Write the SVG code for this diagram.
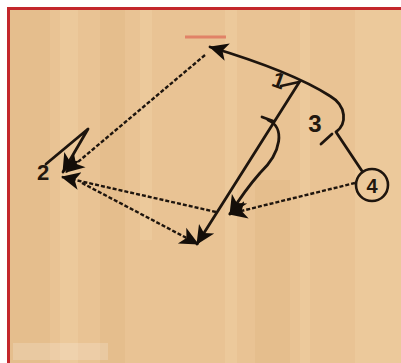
<svg xmlns="http://www.w3.org/2000/svg" width="401" height="363" viewBox="0 0 401 363">
<defs>
<marker id="ah" markerUnits="userSpaceOnUse" markerWidth="22" markerHeight="20" refX="18" refY="10" orient="auto">
<path d="M0,1 L19,10 L0,19 L5,10 z" fill="#140e09"/>
</marker>
</defs>
<style>
.solid{fill:none;stroke:#1e150e;stroke-width:2.8;stroke-linecap:round;stroke-linejoin:round}
.dash{fill:none;stroke:#1e150e;stroke-width:2.4;stroke-dasharray:4 2}
.lbl{font-family:"Liberation Sans",Arial,sans-serif;font-weight:bold;fill:#22170e;text-anchor:middle}
.st{fill:#f3d5a8;opacity:0.35}
.sd{fill:#dcae78;opacity:0.25}
</style>
<rect width="401" height="363" fill="#ffffff"/>
<g id="floor">
<rect x="8" y="8" width="393" height="355" fill="#e9c394"/>
<rect class="sd" x="10" y="10" width="40" height="353"/>
<rect class="st" x="60" y="10" width="18" height="353"/>
<rect class="st" x="140" y="10" width="12" height="230"/>
<rect class="sd" x="100" y="10" width="25" height="353"/>
<rect class="st" x="225" y="10" width="12" height="353"/>
<rect class="sd" x="255" y="180" width="35" height="183"/>
<rect class="st" x="300" y="10" width="10" height="353"/>
<rect class="st" x="355" y="10" width="46" height="353"/>
<rect x="13" y="343" width="95" height="17" fill="#ffffff" opacity="0.18"/>
</g>
<g id="border" fill="none" stroke="#c3282c" stroke-width="3">
<path d="M401,8.5 H8.5 V363"/>
</g>
<line x1="185" y1="37" x2="226" y2="37" stroke="#e0735c" stroke-width="3" opacity="0.8"/>
<g id="connectors">
<path id="c-4-top" class="solid" d="M362,171 L336,132 C347,124 347,106 330,96 C305,80 260,62 210,47" marker-end="url(#ah)"/>
<path id="screen-3" class="solid" d="M321,144 L332,134"/>
<path id="c-1-bottom" class="solid" d="M300,81 L197,244" marker-end="url(#ah)"/>
<path id="screen-1" class="solid" d="M281,86 L299,82"/>
<path id="c-1b-mid" class="solid" d="M268,120 C285,127 282,152 260,173 Q245,190 230,214" marker-end="url(#ah)"/>
<path id="screen-1b" class="solid" d="M262,117 L273,121"/>
<path id="c-2-cut" class="solid" d="M46,164 L88,129 L63,172" marker-end="url(#ah)"/>
<path id="p-top-2" class="dash" d="M205,55 L66,172" marker-end="url(#ah)"/>
<path id="p-mid-2" class="dash" d="M216,212 L62,177" marker-end="url(#ah)"/>
<path id="p-2-bottom" class="dash" d="M82,183 L198,244" marker-end="url(#ah)"/>
<path id="p-4-mid" class="dash" d="M355,183 L229,214" marker-end="url(#ah)"/>
</g>
<g id="node-4">
<circle cx="372" cy="185" r="16" fill="none" stroke="#1e150e" stroke-width="2.6"/>
<text class="lbl" x="372" y="192.5" font-size="20">4</text>
</g>
<g id="node-3"><text class="lbl" x="315" y="132" font-size="24">3</text></g>
<g id="node-2"><text class="lbl" x="43" y="180" font-size="22">2</text></g>
<g id="node-1"><text class="lbl" x="279" y="88" font-size="22" transform="rotate(20 279 80)">1</text></g>
</svg>
